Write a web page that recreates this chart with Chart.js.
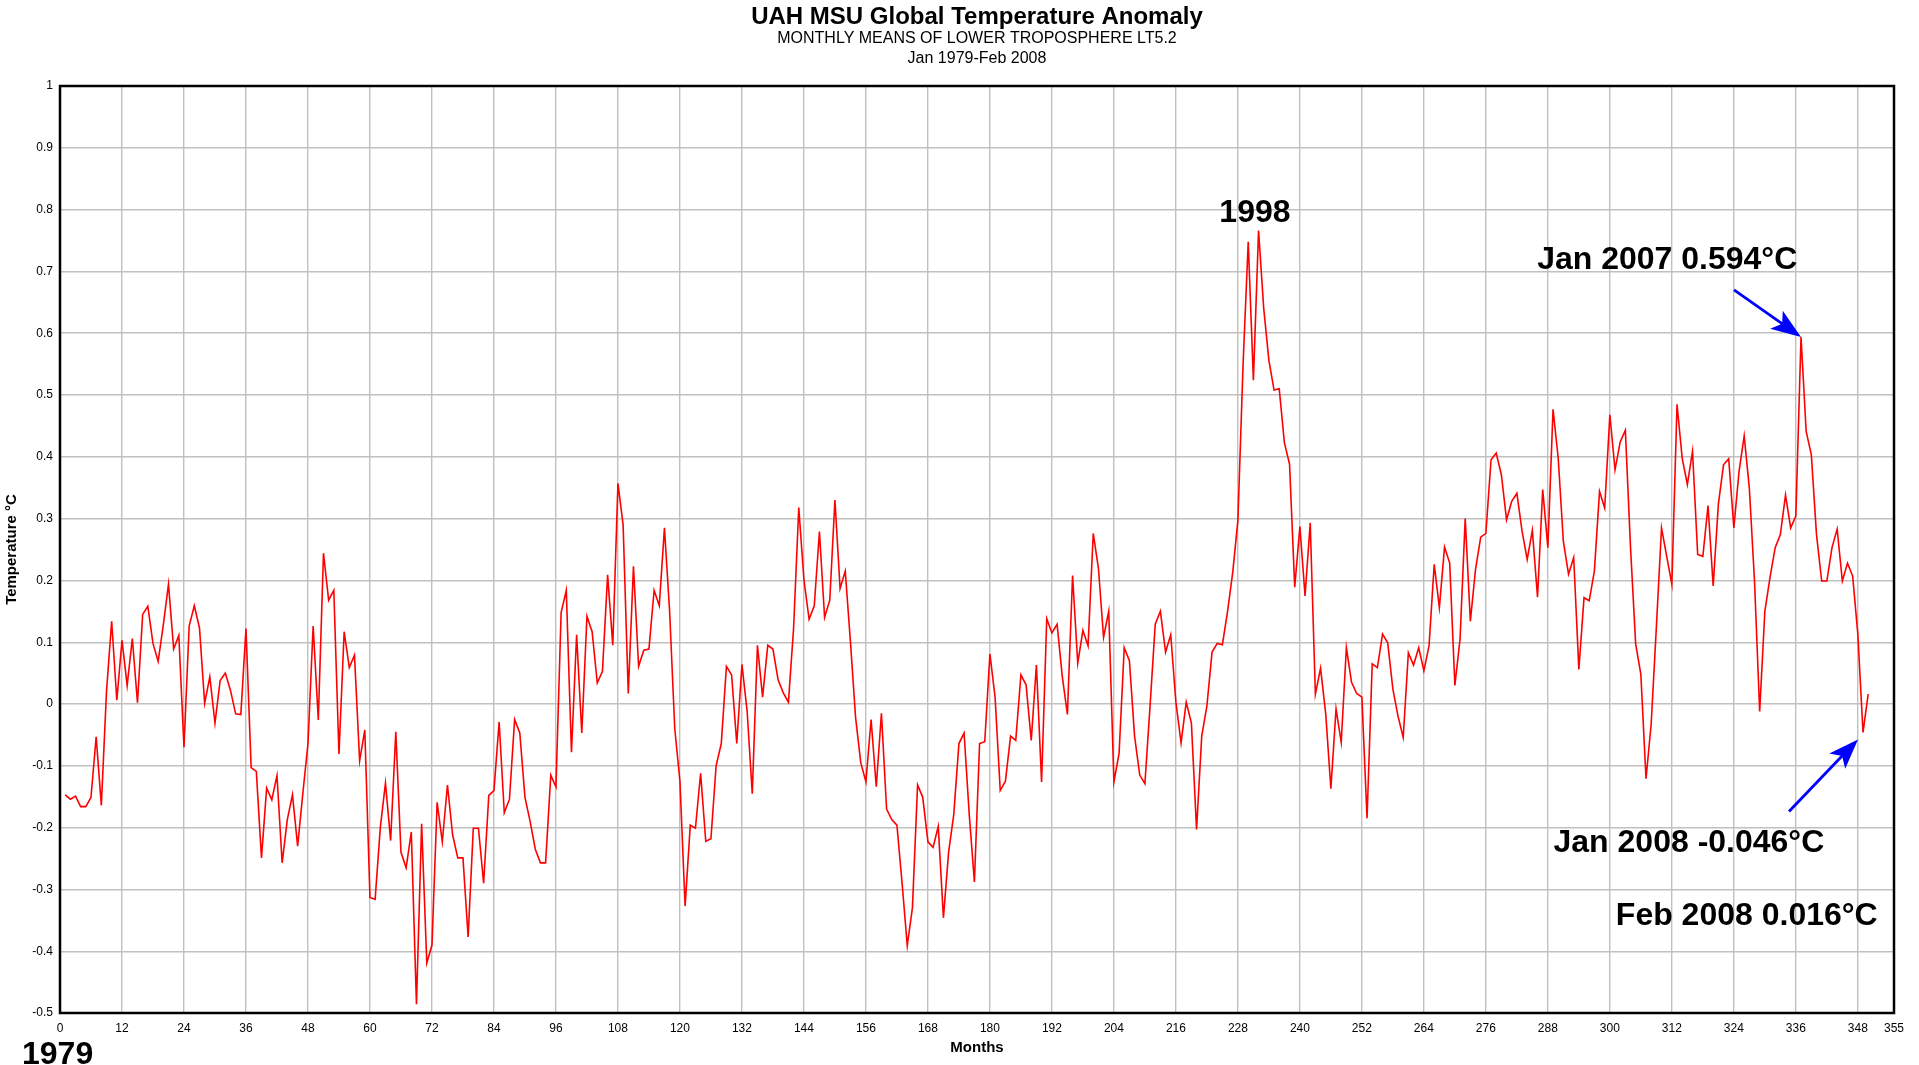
<!DOCTYPE html>
<html>
<head>
<meta charset="utf-8">
<title>UAH MSU Global Temperature Anomaly</title>
<script src="https://cdn.jsdelivr.net/npm/chart.js@4.4.1/dist/chart.umd.min.js"></script>
<style>
    html, body { margin: 0; padding: 0; background: #ffffff; }
    .box { width: 1919px; height: 1065px; }
</style>
</head>
<body>
<div class="box"><canvas class="uah-chart"></canvas></div>
<script>
// monthly anomalies (deg C), month 1 = Jan 1979
const temps1979to1988 = [
    -0.147, -0.154, -0.149, -0.166, -0.166, -0.151, -0.053, -0.164, 0.020, 0.134, 0.006, 0.103,
    0.030, 0.106, 0.002, 0.145, 0.158, 0.098, 0.069, 0.128, 0.194, 0.089, 0.111, -0.070,
    0.126, 0.159, 0.123, 0.001, 0.044, -0.031, 0.038, 0.050, 0.022, -0.016, -0.017, 0.122,
    -0.103, -0.109, -0.249, -0.136, -0.155, -0.116, -0.257, -0.187, -0.147, -0.230, -0.145, -0.064,
    0.126, -0.026, 0.244, 0.168, 0.184, -0.081, 0.117, 0.059, 0.079, -0.092, -0.042, -0.313,
    -0.316, -0.200, -0.128, -0.221, -0.045, -0.240, -0.265, -0.207, -0.486, -0.194, -0.419, -0.390,
    -0.159, -0.223, -0.131, -0.212, -0.249, -0.249, -0.377, -0.201, -0.201, -0.290, -0.148, -0.140,
    -0.029, -0.176, -0.154, -0.025, -0.047, -0.151, -0.190, -0.235, -0.257, -0.257, -0.115, -0.134,
    0.148, 0.184, -0.078, 0.112, -0.047, 0.142, 0.117, 0.034, 0.053, 0.209, 0.095, 0.357,
    0.290, 0.017, 0.223, 0.061, 0.087, 0.089, 0.184, 0.159, 0.285, 0.150, -0.040, -0.125,
];
const temps1989to1998 = [
    -0.327, -0.196, -0.201, -0.112, -0.222, -0.218, -0.100, -0.064, 0.061, 0.047, -0.064, 0.064,
    -0.011, -0.145, 0.095, 0.011, 0.095, 0.089, 0.039, 0.018, 0.003, 0.123, 0.318, 0.201,
    0.137, 0.159, 0.279, 0.140, 0.168, 0.330, 0.187, 0.215, 0.101, -0.022, -0.095, -0.126,
    -0.025, -0.134, -0.015, -0.170, -0.187, -0.196, -0.290, -0.391, -0.330, -0.131, -0.151, -0.223,
    -0.232, -0.198, -0.346, -0.240, -0.179, -0.064, -0.047, -0.179, -0.288, -0.064, -0.061, 0.081,
    0.011, -0.140, -0.125, -0.052, -0.059, 0.047, 0.031, -0.059, 0.063, -0.126, 0.138, 0.115,
    0.129, 0.045, -0.017, 0.208, 0.066, 0.119, 0.094, 0.276, 0.220, 0.108, 0.150, -0.126,
    -0.080, 0.091, 0.070, -0.052, -0.115, -0.129, -0.003, 0.129, 0.150, 0.084, 0.112, 0.003,
    -0.063, 0.003, -0.031, -0.203, -0.052, -0.003, 0.084, 0.098, 0.096, 0.150, 0.213, 0.297,
    0.549, 0.748, 0.524, 0.766, 0.640, 0.556, 0.508, 0.510, 0.423, 0.388, 0.189, 0.287,
];
const temps1999to2008 = [
    0.175, 0.293, 0.016, 0.058, -0.016, -0.137, -0.008, -0.062, 0.091, 0.035, 0.017, 0.011,
    -0.185, 0.065, 0.059, 0.113, 0.099, 0.024, -0.020, -0.054, 0.083, 0.063, 0.091, 0.054,
    0.094, 0.226, 0.156, 0.254, 0.228, 0.030, 0.105, 0.300, 0.134, 0.218, 0.270, 0.276,
    0.395, 0.406, 0.371, 0.298, 0.328, 0.341, 0.280, 0.234, 0.281, 0.173, 0.347, 0.253,
    0.477, 0.398, 0.263, 0.210, 0.237, 0.056, 0.172, 0.167, 0.215, 0.344, 0.317, 0.468,
    0.379, 0.424, 0.443, 0.253, 0.097, 0.048, -0.121, -0.032, 0.124, 0.285, 0.239, 0.194,
    0.485, 0.398, 0.355, 0.409, 0.242, 0.239, 0.321, 0.191, 0.323, 0.387, 0.397, 0.285,
    0.376, 0.434, 0.349, 0.199, -0.012, 0.150, 0.205, 0.253, 0.274, 0.338, 0.285, 0.304,
    0.594, 0.441, 0.403, 0.274, 0.199, 0.199, 0.253, 0.283, 0.199, 0.228, 0.207, 0.113,
    -0.046, 0.016,
];

const monthTicks = [0, 12, 24, 36, 48, 60, 72, 84, 96, 108, 120, 132, 144, 156, 168, 180,
    192, 204, 216, 228, 240, 252, 264, 276, 288, 300, 312, 324, 336, 348, 355];
const tempTicks = [-0.5, -0.4, -0.3, -0.2, -0.1, 0, 0.1, 0.2, 0.3, 0.4, 0.5, 0.6, 0.7, 0.8, 0.9, 1];

const titleLines = ["UAH MSU Global Temperature Anomaly", "MONTHLY MEANS OF LOWER TROPOSPHERE LT5.2", "Jan 1979-Feb 2008"];

const allTemps = temps1979to1988.concat(temps1989to1998, temps1999to2008);
const points = allTemps.map((t, i) => ({ x: i + 1, y: t }));

const FONT = '"Liberation Sans", Arial, sans-serif';
Chart.defaults.font.family = FONT;
Chart.defaults.color = "#000000";

// blue arrow with a notched filled head
const drawArrow = (ctx, x0, y0, x1, y1) => {
    const ang = Math.atan2(y1 - y0, x1 - x0);
    const c = Math.cos(ang);
    const s = Math.sin(ang);
    const len = 30;
    const half = 11;
    const notch = 7;
    const bx = x1 - len * c;
    const by = y1 - len * s;
    ctx.strokeStyle = "#0000FF";
    ctx.fillStyle = "#0000FF";
    ctx.lineWidth = 2.8;
    ctx.beginPath();
    ctx.moveTo(x0, y0);
    ctx.lineTo(bx + (notch + 2) * c, by + (notch + 2) * s);
    ctx.stroke();
    ctx.beginPath();
    ctx.moveTo(x1, y1);
    ctx.lineTo(bx - half * s, by + half * c);
    ctx.lineTo(bx + notch * c, by + notch * s);
    ctx.lineTo(bx + half * s, by - half * c);
    ctx.closePath();
    ctx.fill();
};

// frame, titles, notes and arrows
const decorations = {
    id: "decorations",
    afterDraw(chart) {
        const { ctx, chartArea: a, scales } = chart;
        const xs = scales.x;
        const ys = scales.y;
        ctx.save();

        ctx.strokeStyle = "#000000";
        ctx.lineWidth = 2.5;
        ctx.strokeRect(a.left, a.top, a.right - a.left, a.bottom - a.top);

        const cx = (a.left + a.right) / 2;
        ctx.fillStyle = "#000000";
        ctx.textAlign = "center";
        ctx.textBaseline = "middle";
        ctx.font = "bold 24px " + FONT;
        ctx.fillText(titleLines[0], cx, 17);
        ctx.font = "16px " + FONT;
        ctx.fillText(titleLines[1], cx, 39);
        ctx.fillText(titleLines[2], cx, 59);

        ctx.font = "bold 32px " + FONT;
        ctx.fillText("1998", xs.getPixelForValue(231.3), ys.getPixelForValue(0.795));
        ctx.fillText("Jan 2007 0.594°C", xs.getPixelForValue(311.1), ys.getPixelForValue(0.718));
        ctx.fillText("Jan 2008 -0.046°C", xs.getPixelForValue(315.3), ys.getPixelForValue(-0.225));
        ctx.fillText("Feb 2008 0.016°C", xs.getPixelForValue(326.5), ys.getPixelForValue(-0.343));

        ctx.textAlign = "left";
        ctx.textBaseline = "alphabetic";
        ctx.font = "bold 32px " + FONT;
        ctx.fillText("1979", 22, 1064);

        const tip1x = xs.getPixelForValue(337);
        const tip1y = ys.getPixelForValue(0.594);
        drawArrow(ctx, tip1x - 67, tip1y - 47, tip1x, tip1y);
        const tip2x = xs.getPixelForValue(349) - 5;
        const tip2y = ys.getPixelForValue(-0.046) + 7;
        drawArrow(ctx, tip2x - 69, tip2y + 72, tip2x, tip2y);

        ctx.restore();
    },
};

const gridStyle = {
    color: "#C0C0C0",
    lineWidth: 1.4,
    drawTicks: false,
};

new Chart(document.querySelector(".uah-chart").getContext("2d"), {
    type: "line",
    data: {
        datasets: [
            {
                data: points,
                borderColor: "#FF0000",
                backgroundColor: "#FF0000",
                borderWidth: 1.6,
                pointRadius: 0,
                tension: 0,
                fill: false,
            },
        ],
    },
    options: {
        responsive: true,
        maintainAspectRatio: false,
        devicePixelRatio: 1,
        animation: false,
        layout: {
            padding: { top: 86, right: 25, bottom: 0, left: 0 },
        },
        scales: {
            x: {
                type: "linear",
                min: 0,
                max: 355,
                grid: gridStyle,
                border: { display: false },
                afterBuildTicks: (s) => {
                    s.ticks = monthTicks.map((v) => ({ value: v }));
                },
                afterFit: (s) => {
                    s.height = 52;
                },
                ticks: {
                    autoSkip: false,
                    maxRotation: 0,
                    padding: 8,
                    font: { size: 12 },
                    callback: (v) => String(v),
                },
                title: {
                    display: true,
                    text: "Months",
                    font: { size: 15, weight: "bold" },
                    padding: { top: 4, bottom: 8 },
                },
            },
            y: {
                type: "linear",
                min: -0.5,
                max: 1,
                grid: gridStyle,
                border: { display: false },
                afterBuildTicks: (s) => {
                    s.ticks = tempTicks.map((v) => ({ value: v }));
                },
                afterFit: (s) => {
                    s.width = 60;
                },
                ticks: {
                    padding: 7,
                    font: { size: 12 },
                    callback: (v) => String(+v.toFixed(1)),
                },
                title: {
                    display: true,
                    text: "Temperature °C",
                    font: { size: 15, weight: "bold" },
                    padding: { top: 3, bottom: 0 },
                },
            },
        },
        plugins: {
            legend: { display: false },
            tooltip: { enabled: false },
        },
    },
    plugins: [decorations],
});
</script>
</body>
</html>
